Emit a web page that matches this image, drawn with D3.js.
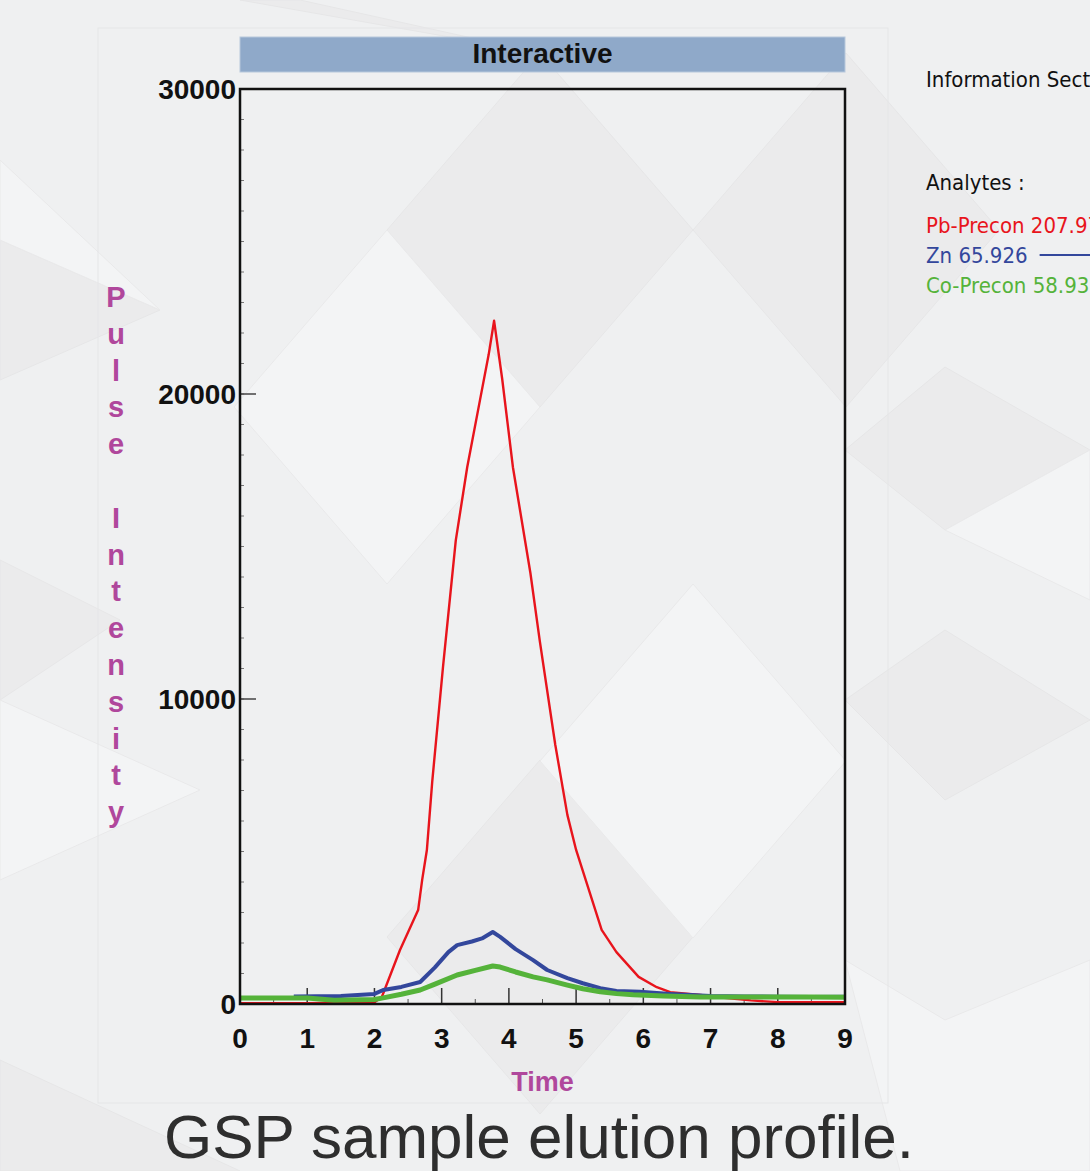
<!DOCTYPE html>
<html>
<head>
<meta charset="utf-8">
<script src="https://cdn.jsdelivr.net/npm/d3@7"></script>
<style>
  html, body { margin: 0; padding: 0; background: #eeeff0; overflow: hidden; }
  svg { display: block; }
</style>
</head>
<body>
<div id="chart"></div>
<script>
(function() {
  var W = 1090, H = 1171;

  // values
  var timePb = [0, 1, 2.0, 2.11, 2.38, 2.65, 2.71, 2.78, 2.86, 3.02, 3.21, 3.38, 3.57, 3.7, 3.78, 3.9, 4.06, 4.32, 4.46, 4.69, 4.87, 5.0, 5.38, 5.6, 5.93, 6.2, 6.4, 6.85, 7.2, 7.6, 8.0, 8.5, 9.0];
  var pb = [30, 30, 60, 230, 1770, 3080, 4070, 5050, 7300, 11050, 15200, 17600, 19800, 21300, 22400, 20500, 17600, 14130, 11900, 8500, 6200, 5050, 2430, 1700, 890, 550, 390, 300, 200, 120, 60, 60, 60];

  var timeZn = [0.8, 1.5, 2.0, 2.13, 2.4, 2.68, 2.9, 3.1, 3.23, 3.45, 3.6, 3.76, 3.87, 4.1, 4.36, 4.57, 4.87, 5.1, 5.36, 5.6, 5.95, 6.4, 7.0, 7.5, 8.0, 8.5, 9.0];
  var zn = [250, 260, 330, 460, 560, 720, 1200, 1700, 1930, 2050, 2150, 2360, 2200, 1800, 1440, 1115, 850, 680, 520, 430, 400, 330, 260, 250, 240, 230, 240];

  var timeCo = [0, 1.0, 1.4, 2.0, 2.13, 2.4, 2.68, 2.9, 3.23, 3.5, 3.76, 3.87, 4.1, 4.36, 4.57, 4.87, 5.1, 5.36, 5.6, 5.85, 6.3, 6.85, 7.5, 8.0, 8.5, 9.0];
  var co = [200, 200, 120, 150, 200, 320, 460, 650, 950, 1100, 1245, 1210, 1050, 890, 790, 620, 500, 400, 340, 300, 260, 230, 230, 230, 230, 220];

  var xTicks = [0, 1, 2, 3, 4, 5, 6, 7, 8, 9];
  var yTicks = [0, 10000, 20000, 30000];
  var analytes = ["Pb-Precon 207.977", "Zn 65.926", "Co-Precon 58.933"];
  var colors = ["#e8141c", "#33479c", "#55b33a"];
  var widths = [2.4, 4, 5];

  var margin = { top: 89, left: 240, right: W - 845, bottom: H - 1004 },
    width = W - margin.left - margin.right,
    height = H - margin.top - margin.bottom;

  var svg = d3.select("#chart")
    .append("svg")
    .attr("width", W)
    .attr("height", H);

  // background shapes (soft grey diamonds)
  var bg = svg.append("g");
  bg.append("rect").attr("width", W).attr("height", H).attr("fill", "#eff0f1");
  var darker = [
    [[540, 53], [693, 230], [540, 407], [387, 230]],
    [[693, 230], [846, 53], [999, 230], [846, 407]],
    [[540, 760], [693, 937], [540, 1114], [387, 937]],
    [[0, 240], [160, 310], [0, 380]],
    [[0, 560], [120, 620], [0, 700]],
    [[945, 367], [1090, 450], [945, 530], [845, 450]],
    [[845, 700], [945, 630], [1090, 720], [945, 800]],
    [[0, 1060], [240, 1171], [0, 1171]],
    [[240, 0], [540, 53], [300, 0]]
  ];
  var lighter = [
    [[0, 160], [160, 310], [0, 240]],
    [[387, 230], [540, 407], [387, 584], [234, 407]],
    [[693, 584], [846, 761], [693, 938], [540, 761]],
    [[0, 700], [200, 790], [0, 880]],
    [[945, 530], [1090, 450], [1090, 600]],
    [[845, 960], [945, 1020], [1090, 960], [1090, 1171], [900, 1171]]
  ];
  bg.selectAll(".dk")
    .data(darker)
    .enter().append("polygon")
    .attr("points", function(d) { return d.join(" "); })
    .attr("fill", "#ebebec")
    .attr("stroke", "#e6e6e7");
  bg.selectAll(".lt")
    .data(lighter)
    .enter().append("polygon")
    .attr("points", function(d) { return d.join(" "); })
    .attr("fill", "#f3f4f5")
    .attr("stroke", "#e9e9ea");
  bg.append("rect")
    .attr("x", 98).attr("y", 28).attr("width", 790).attr("height", 1075)
    .attr("fill", "none")
    .attr("stroke", "#e5e6e7");

  var g = svg.append("g")
    .attr("transform", "translate(" + margin.left + "," + margin.top + ")");

  var x = d3.scaleLinear().domain([0, 9]).range([0, width]);
  var y = d3.scaleLinear().domain([0, 30000]).range([height, 0]);

  // title bar
  g.append("rect")
    .attr("x", 0).attr("y", 37 - margin.top)
    .attr("width", width).attr("height", 35)
    .attr("fill", "#8fa9c9").attr("stroke", "#b7c8dc");
  g.append("text")
    .attr("x", width / 2).attr("y", 63 - margin.top)
    .attr("text-anchor", "middle")
    .attr("font-family", "Liberation Sans, Arial, sans-serif")
    .attr("font-weight", "bold").attr("font-size", 28)
    .attr("fill", "#111")
    .text("Interactive");

  // minor ticks on y (every 1000)
  g.selectAll(".ymin")
    .data(d3.range(1000, 30000, 1000))
    .enter().append("line")
    .attr("x1", 0).attr("x2", 4)
    .attr("y1", function(d) { return y(d); })
    .attr("y2", function(d) { return y(d); })
    .attr("stroke", "#777").attr("stroke-width", 1);

  g.selectAll(".ymaj")
    .data([10000, 20000])
    .enter().append("line")
    .attr("x1", 0).attr("x2", 16)
    .attr("y1", function(d) { return y(d); })
    .attr("y2", function(d) { return y(d); })
    .attr("stroke", "#444").attr("stroke-width", 1.5);

  // x ticks
  g.selectAll(".xmaj")
    .data(d3.range(1, 9))
    .enter().append("line")
    .attr("x1", function(d) { return x(d); })
    .attr("x2", function(d) { return x(d); })
    .attr("y1", height).attr("y2", height - 16)
    .attr("stroke", "#333").attr("stroke-width", 1.5);
  g.selectAll(".xmin")
    .data(d3.range(0.5, 9, 1))
    .enter().append("line")
    .attr("x1", function(d) { return x(d); })
    .attr("x2", function(d) { return x(d); })
    .attr("y1", height).attr("y2", height - 5)
    .attr("stroke", "#555").attr("stroke-width", 1);

  // lines
  var line = d3.line()
    .x(function(d) { return x(d[0]); })
    .y(function(d) { return y(d[1]); });

  var series = [d3.zip(timePb, pb), d3.zip(timeZn, zn), d3.zip(timeCo, co)];
  g.selectAll(".series")
    .data(series)
    .enter().append("path")
    .attr("d", line)
    .attr("fill", "none")
    .attr("stroke", function(d, i) { return colors[i]; })
    .attr("stroke-width", function(d, i) { return widths[i]; })
    .attr("stroke-linejoin", "round");

  // frame
  g.append("rect")
    .attr("width", width).attr("height", height)
    .attr("fill", "none").attr("stroke", "#111").attr("stroke-width", 2.5);

  // tick labels
  g.selectAll(".xl")
    .data(xTicks)
    .enter().append("text")
    .attr("x", function(d) { return x(d); })
    .attr("y", height + 44)
    .attr("text-anchor", "middle")
    .attr("font-family", "Liberation Sans, Arial, sans-serif")
    .attr("font-weight", "bold").attr("font-size", 28)
    .attr("fill", "#111")
    .text(function(d) { return d; });

  g.selectAll(".yl")
    .data(yTicks)
    .enter().append("text")
    .attr("x", -4)
    .attr("y", function(d) { return y(d) + 10; })
    .attr("text-anchor", "end")
    .attr("font-family", "Liberation Sans, Arial, sans-serif")
    .attr("font-weight", "bold").attr("font-size", 28)
    .attr("fill", "#111")
    .text(function(d) { return d; });

  // axis titles
  g.append("text")
    .attr("x", x(4.5)).attr("y", height + 87)
    .attr("text-anchor", "middle")
    .attr("font-family", "Liberation Sans, Arial, sans-serif")
    .attr("font-weight", "bold").attr("font-size", 27)
    .attr("fill", "#b0479c")
    .text("Time");

  var yTitle = "Pulse Intensity".split("");
  g.selectAll(".yt")
    .data(yTitle)
    .enter().append("text")
    .attr("x", 116 - margin.left)
    .attr("y", function(d, i) { return 307 - margin.top + i * 36.8; })
    .attr("text-anchor", "middle")
    .attr("font-family", "Liberation Sans, Arial, sans-serif")
    .attr("font-weight", "bold").attr("font-size", 29)
    .attr("fill", "#b0479c")
    .text(function(d) { return d; });

  // info section (runs off the right edge, as in the source screenshot)
  var info = svg.append("g")
    .attr("font-family", "DejaVu Sans Condensed, DejaVu Sans, sans-serif")
    .attr("font-size", 22);
  info.append("text").attr("x", 926).attr("y", 87).attr("fill", "#111").text("Information Section");
  info.append("text").attr("x", 926).attr("y", 190).attr("fill", "#111").text("Analytes :");

  var items = info.selectAll(".item")
    .data(analytes)
    .enter().append("g")
    .attr("transform", function(d, i) { return "translate(926," + (233 + i * 30) + ")"; });
  items.append("text")
    .attr("fill", function(d, i) { return colors[i]; })
    .text(function(d) { return d; });
  items.append("line")
    .attr("x1", function() { return this.parentNode.querySelector("text").getComputedTextLength() + 12; })
    .attr("x2", function() { return this.parentNode.querySelector("text").getComputedTextLength() + 92; })
    .attr("y1", -8).attr("y2", -8)
    .attr("stroke", function(d, i) { return colors[i]; })
    .attr("stroke-width", 2);

  // caption
  svg.append("text")
    .attr("x", 539).attr("y", 1158)
    .attr("text-anchor", "middle")
    .attr("font-family", "Liberation Sans, Arial, sans-serif")
    .attr("font-size", 62)
    .attr("fill", "#2e2e2e")
    .text("GSP sample elution profile.");
})();
</script>
</body>
</html>
